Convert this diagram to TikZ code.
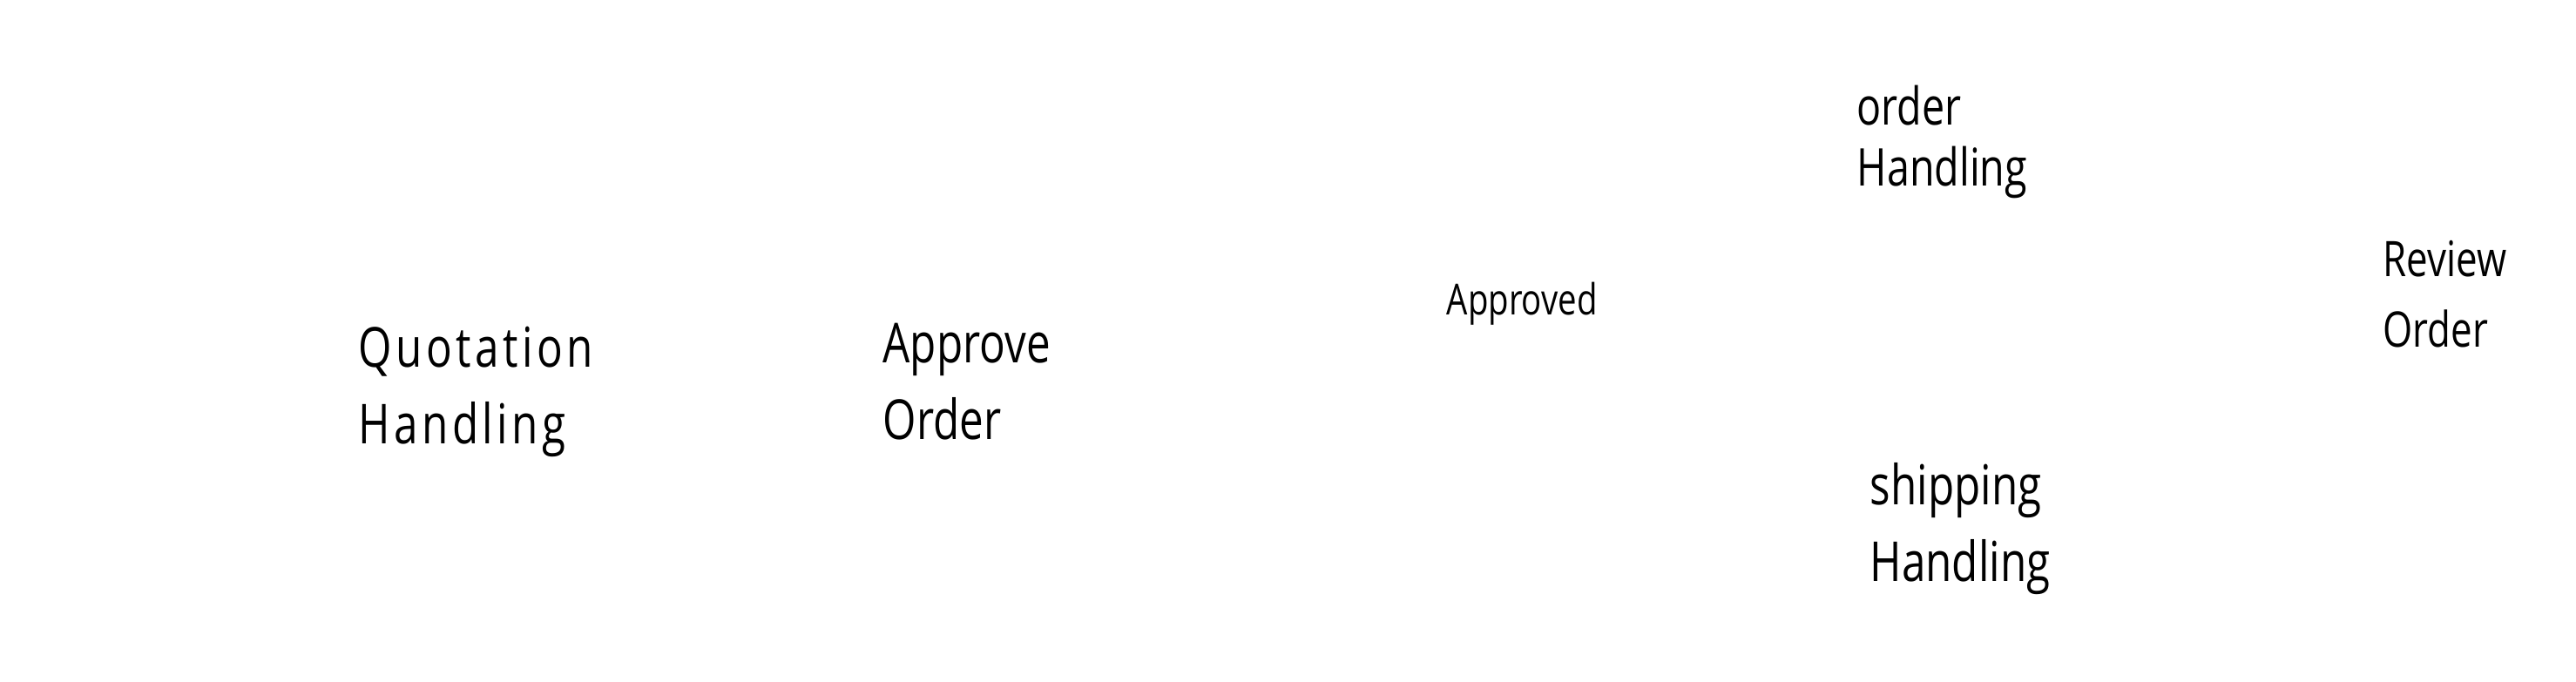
\documentclass[tikz,border=0pt]{standalone}
\usepackage{fontspec}
\setmainfont[FakeStretch=0.78]{Open Sans}
\usepackage{tikz}

\begin{document}
\begin{tikzpicture}[
    lbl/.style={anchor=west,align=left,inner sep=0pt,font=\fontsize{18}{25}\selectfont}
  ]
          \useasboundingbox (0,0) rectangle (29.57,7.82);
          \node[lbl,font=\fontsize{18}{25}\selectfont\addfontfeature{LetterSpace=7}] (quote) at (4.11,3.32) {Quotation\\Handling};
          \node[lbl] (approve) at (10.13,3.44) {Approve\\Order};
          \node[lbl,font=\fontsize{14}{18}\selectfont] (approved) at (16.60,4.33) {Approved};
          \node[lbl,font=\fontsize{17}{20}\selectfont] (orderh) at (21.31,6.19) {order\\Handling};
          \node[lbl,font=\fontsize{16}{23}\selectfont] (review) at (27.35,4.44) {Review\\Order};
          \node[lbl] (shipping) at (21.46,1.75) {shipping\\Handling};
        \end{tikzpicture}
\end{document}
